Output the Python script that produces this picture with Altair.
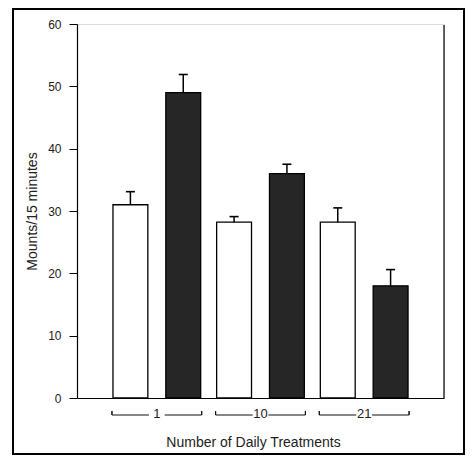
import altair as alt
import pandas as pd

groups = ["1", "1", "10", "10", "21", "21"]
treatments = ["A", "B", "A", "B", "A", "B"]
means = [31, 49, 28.2, 36, 28.2, 18]
uppers = [33.1, 51.9, 29.1, 37.5, 30.5, 20.6]

df = pd.DataFrame({"group": groups, "treat": treatments, "mean": means, "upper": uppers})

FONT = "Liberation Sans"
W, H = 367, 374
GSORT = ["1", "10", "21"]
TSORT = ["A", "B"]

xenc = alt.X("group:N", sort=GSORT,
             scale=alt.Scale(paddingInner=0, paddingOuter=0.27),
             axis=alt.Axis(title="Number of Daily Treatments", labelAngle=0, ticks=False,
                           domain=True, domainColor="#000", domainWidth=1.2,
                           labelPadding=9, labelFontSize=13, labelColor="#222", labelFont=FONT,
                           titleFont=FONT, titleFontSize=14, titleFontWeight="normal", titleColor="#222",
                           titleX=176, titleY=48, titleBaseline="alphabetic"))
xoff = alt.XOffset("treat:N", sort=TSORT,
                   scale=alt.Scale(paddingInner=0.34, paddingOuter=0.151))

base = alt.Chart(df)

bars = base.mark_bar(stroke="#000", strokeWidth=1.3).encode(
    x=xenc,
    xOffset=xoff,
    y=alt.Y("mean:Q", scale=alt.Scale(domain=[0, 60], nice=False),
            axis=alt.Axis(title="Mounts/15 minutes", values=[0, 10, 20, 30, 40, 50, 60],
                          grid=False, tickSize=8, tickColor="#000", tickWidth=1,
                          domainColor="#000", domainWidth=1.2,
                          labelPadding=8, labelFontSize=12, labelColor="#222", labelFont=FONT,
                          titleFont=FONT, titleFontSize=14, titleFontWeight="normal", titleColor="#222",
                          titleX=-45, titleY=187, titleAngle=270, titleAlign="center",
                          titleBaseline="middle")),
    fill=alt.Fill("treat:N", scale=alt.Scale(domain=TSORT, range=["#ffffff", "#262626"]),
                  legend=None),
)

gx = alt.X("group:N", sort=GSORT)
tx = alt.XOffset("treat:N", sort=TSORT)

err = base.mark_rule(color="#000", strokeWidth=1.5).encode(
    x=gx, xOffset=tx, y="mean:Q", y2="upper:Q",
)

caps = base.mark_tick(color="#000", orient="horizontal", size=9, thickness=1.6, opacity=1).encode(
    x=gx, xOffset=tx, y="upper:Q",
)

brackets = base.mark_tick(color="#111", orient="horizontal", size=37, thickness=1, opacity=1).encode(
    x=gx, xOffset=tx, y=alt.value(391),
)

left_ends = base.mark_tick(
    color="#111", orient="vertical", size=4, thickness=1, opacity=1
).encode(x=alt.X("group:N", sort=GSORT, bandPosition=0.067), y=alt.value(389))

right_ends = base.mark_tick(
    color="#111", orient="vertical", size=4, thickness=1, opacity=1
).encode(x=alt.X("group:N", sort=GSORT, bandPosition=0.933), y=alt.value(389))

right_line = alt.Chart(alt.Data(values=[{}])).mark_rule(color="#000", strokeWidth=1.2).encode(
    x=alt.value(W), y=alt.value(1), y2=alt.value(H)
)

frame = alt.Chart(alt.Data(values=[{}])).mark_rect(fill=None, stroke="#000", strokeWidth=2).encode(
    x=alt.value(-64), x2=alt.value(387), y=alt.value(-15), y2=alt.value(430)
)

chart = alt.layer(frame, bars, err, caps, brackets, left_ends, right_ends, right_line).properties(
    width=W, height=H,
    autosize=alt.AutoSizeParams(type="none"),
    padding={"left": 69, "top": 16, "right": 21, "bottom": 57},
).configure_view(stroke=None).configure(background="#ffffff")

chart.save("out.html", embed_options={"renderer": "svg", "actions": False})
